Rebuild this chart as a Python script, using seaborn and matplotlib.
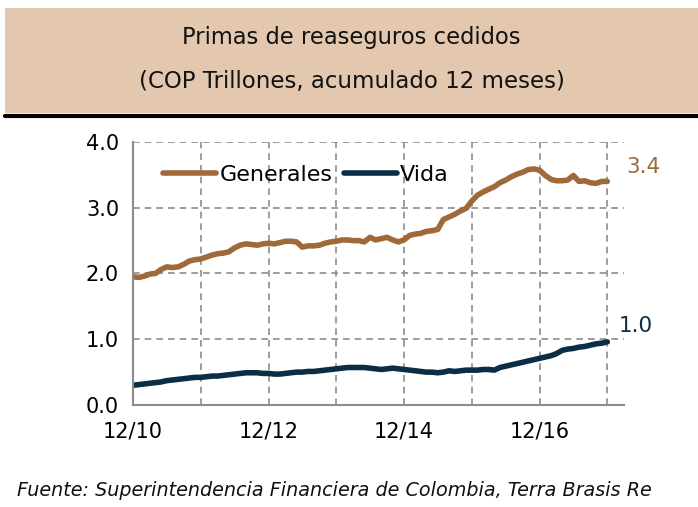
import numpy as np
import pandas as pd
import matplotlib
matplotlib.use("Agg")
import matplotlib.pyplot as plt
import matplotlib.dates as mdates
import seaborn as sns

# monthly data, 12/2010 - 12/2017 (COP trillones, 12-month rolling)
meses = pd.date_range("2010-12-01", periods=85, freq="MS")
generales = [
    1.95, 1.94, 1.96, 1.99, 2.00, 2.06, 2.10, 2.09, 2.10, 2.14, 2.19, 2.21,
    2.22, 2.25, 2.28, 2.30, 2.31, 2.33, 2.39, 2.43, 2.45, 2.44, 2.43, 2.45,
    2.46, 2.45, 2.47, 2.49, 2.49, 2.48, 2.40, 2.42, 2.42, 2.43, 2.46, 2.48,
    2.49, 2.51, 2.51, 2.50, 2.50, 2.48, 2.55, 2.51, 2.53, 2.55, 2.51, 2.48,
    2.51, 2.58, 2.60, 2.61, 2.64, 2.65, 2.67, 2.82, 2.86, 2.90, 2.95, 2.99,
    3.10, 3.19, 3.24, 3.28, 3.32, 3.38, 3.42, 3.47, 3.51, 3.54, 3.58, 3.59,
    3.57, 3.49, 3.43, 3.41, 3.41, 3.42, 3.49, 3.40, 3.41, 3.38, 3.37, 3.40,
    3.40,
]
vida = [
    0.30, 0.31, 0.32, 0.33, 0.34, 0.35, 0.37, 0.38, 0.39, 0.40, 0.41, 0.42,
    0.42, 0.43, 0.44, 0.44, 0.45, 0.46, 0.47, 0.48, 0.49, 0.49, 0.49, 0.48,
    0.48, 0.47, 0.47, 0.48, 0.49, 0.50, 0.50, 0.51, 0.51, 0.52, 0.53, 0.54,
    0.55, 0.56, 0.57, 0.57, 0.57, 0.57, 0.56, 0.55, 0.54, 0.55, 0.56, 0.55,
    0.54, 0.53, 0.52, 0.51, 0.50, 0.50, 0.49, 0.50, 0.52, 0.51, 0.52, 0.53,
    0.53, 0.53, 0.54, 0.54, 0.53, 0.57, 0.59, 0.61, 0.63, 0.65, 0.67, 0.69,
    0.71, 0.73, 0.75, 0.78, 0.83, 0.85, 0.86, 0.88, 0.89, 0.91, 0.93, 0.94,
    0.96,
]
series = ["Generales", "Vida"]
colores = ["#A0693A", "#0B2E45"]

df = pd.DataFrame({"fecha": meses, "Generales": generales, "Vida": vida})
df_long = df.melt(id_vars="fecha", var_name="serie", value_name="valor")

sns.set_style("white")
plt.rcParams["font.family"] = ["DejaVu Sans"]
plt.rcParams["text.color"] = "black"

fig = plt.figure(figsize=(6.98, 5.07), dpi=100)

# title band
band = fig.add_axes([0.007, 0.777, 0.993, 0.207])
band.set_facecolor("#E3C7AE")
band.set_xticks([])
band.set_yticks([])
for s in band.spines.values():
    s.set_visible(False)
band.text(0.5, 0.72, "Primas de reaseguros cedidos", ha="center", va="center",
          fontsize=16.3, color="#111111", transform=band.transAxes)
band.text(0.5, 0.30, "(COP Trillones, acumulado 12 meses)", ha="center", va="center",
          fontsize=16.5, color="#111111", transform=band.transAxes)
fig.add_artist(plt.Line2D([0.007, 1.0], [0.771, 0.771], color="black", lw=3,
                          transform=fig.transFigure))

ax = fig.add_axes([0.1905, 0.2012, 0.7035, 0.5188])
sns.lineplot(data=df_long, x="fecha", y="valor", hue="serie", hue_order=series,
             palette=colores, linewidth=4, ax=ax)

ax.set_ylim(0, 4)
ax.set_xlim(pd.Timestamp("2010-12-01"), pd.Timestamp("2018-03-01"))
ax.set_yticks([0, 1, 2, 3, 4])
ax.set_yticklabels(["0.0", "1.0", "2.0", "3.0", "4.0"])
ax.set_xticks(pd.to_datetime(["2010-12-01", "2012-12-01", "2014-12-01", "2016-12-01"]))
ax.xaxis.set_major_formatter(mdates.DateFormatter("%m/%y"))
ax.set_xticks(pd.to_datetime(["2011-12-01", "2013-12-01", "2015-12-01", "2017-12-01"]), minor=True)
ax.set_xlabel("")
ax.set_ylabel("")

grid_kw = dict(color="#8C8C8C", linestyle=(0, (4, 3)), linewidth=1.2)
ax.grid(True, which="both", **grid_kw)
ax.tick_params(axis="both", which="major", labelsize=15, colors="#000000",
               length=7, width=1.2, color="#8C8C8C", direction="out")
ax.tick_params(axis="both", which="major", labelcolor="black")
ax.tick_params(axis="x", which="minor", length=0)
ax.tick_params(axis="x", pad=5)
ax.tick_params(axis="y", pad=3)
for side in ["top", "right"]:
    ax.spines[side].set_visible(False)
for side in ["left", "bottom"]:
    ax.spines[side].set_color("#8C8C8C")
    ax.spines[side].set_linewidth(1.5)

leg = ax.legend(loc="upper left", bbox_to_anchor=(0.02, 0.99), ncol=2, frameon=False,
                fontsize=16, handlelength=2.4, handletextpad=0.15, columnspacing=0.5)
for h in leg.get_lines():
    h.set_linewidth(4)
    h.set_solid_capstyle("round")
for t in leg.get_texts():
    t.set_color("black")

ax.text(1.005, generales[-1] + 0.22, f"{generales[-1]:.1f}", color=colores[0],
        fontsize=15.5, va="center", ha="left", transform=ax.get_yaxis_transform())
ax.text(0.99, vida[-1] + 0.24, f"{vida[-1]:.1f}", color=colores[1],
        fontsize=15.5, va="center", ha="left", transform=ax.get_yaxis_transform())

fig.text(0.025, 0.033, "Fuente: Superintendencia Financiera de Colombia, Terra Brasis Re",
         fontsize=13.8, style="italic", color="#111111", ha="left", va="center")

fig.savefig("out.png", dpi=100)
